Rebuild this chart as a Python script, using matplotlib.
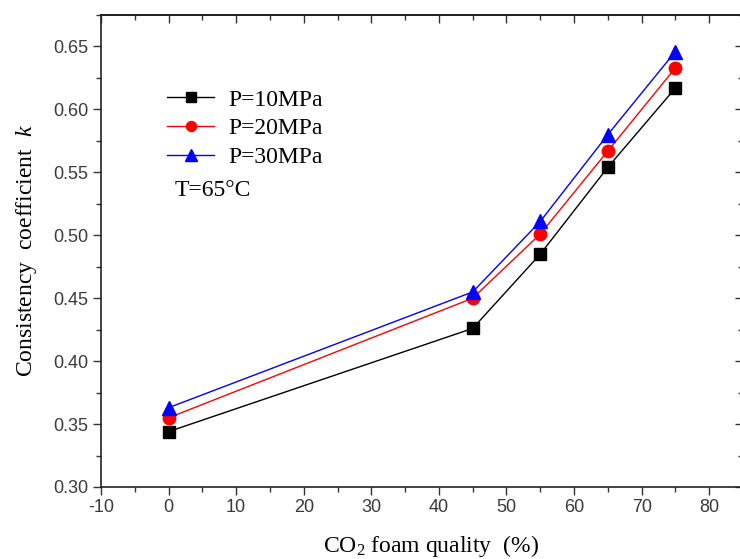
import matplotlib
matplotlib.use("Agg")
import matplotlib.pyplot as plt
from matplotlib.ticker import MultipleLocator, FormatStrFormatter

quality = [0, 45, 55, 65, 75]
k_10 = [0.344, 0.426, 0.485, 0.554, 0.617]
k_20 = [0.355, 0.450, 0.501, 0.567, 0.633]
k_30 = [0.363, 0.455, 0.511, 0.580, 0.646]
labels = ["P=10MPa", "P=20MPa", "P=30MPa"]

serif = "Liberation Serif"
sans = "Liberation Sans"

plt.rcParams["mathtext.fontset"] = "custom"
plt.rcParams["mathtext.rm"] = serif
plt.rcParams["mathtext.it"] = serif + ":italic"
plt.rcParams["axes.unicode_minus"] = False

fig = plt.figure(figsize=(7.40, 5.59), dpi=100)
ax = fig.add_axes([101/740, (559-487)/559, (743-101)/740, (487-15)/559])

ax.plot(quality, k_10, color="black", lw=1.0, marker="s", ms=8.5, mec="black", mfc="black", label=labels[0])
ax.plot(quality, k_20, color="red", lw=1.0, marker="o", ms=9, mec="red", mfc="red", label=labels[1])
ax.plot(quality, k_30, color="blue", lw=1.0, marker="^", ms=10, mec="blue", mfc="blue", label=labels[2])

ax.set_xlim(-10, 85)
ax.set_ylim(0.30, 0.675)
ax.xaxis.set_major_locator(MultipleLocator(10))
ax.xaxis.set_minor_locator(MultipleLocator(5))
ax.yaxis.set_major_locator(MultipleLocator(0.05))
ax.yaxis.set_minor_locator(MultipleLocator(0.025))
ax.yaxis.set_major_formatter(FormatStrFormatter("%.2f"))

for sp in ax.spines.values():
    sp.set_linewidth(1.2)
    sp.set_color("#222222")

ax.tick_params(which="major", direction="out", length=6, width=1.0, color="#333333",
               labelsize=13, labelcolor="#3a3a3a", pad=3)
ax.tick_params(which="minor", direction="out", length=3.5, width=1.0, color="#333333")
for lab in ax.get_xticklabels() + ax.get_yticklabels():
    lab.set_fontfamily(sans)

secx = ax.secondary_xaxis("top")
secx.xaxis.set_major_locator(MultipleLocator(10))
secx.xaxis.set_minor_locator(MultipleLocator(5))
secx.tick_params(which="major", direction="in", length=6, width=1.0, color="#333333", labeltop=False)
secx.tick_params(which="minor", direction="in", length=3.5, width=1.0, color="#333333")
secx.spines["top"].set_linewidth(1.2)

secy = ax.secondary_yaxis("right")
secy.yaxis.set_major_locator(MultipleLocator(0.05))
secy.yaxis.set_minor_locator(MultipleLocator(0.025))
secy.tick_params(which="major", direction="in", length=6, width=1.0, color="#333333", labelright=False)
secy.tick_params(which="minor", direction="in", length=3.5, width=1.0, color="#333333")

ax.set_xlabel(r"CO$_2$ foam quality  (%)", fontfamily=serif, fontsize=17, labelpad=10)
ax.xaxis.set_label_coords(0.514, -0.098)
ax.set_ylabel(r"Consistency  coefficient  $k$", fontfamily=serif, fontsize=17, labelpad=10)

leg = ax.legend(loc="upper left", bbox_to_anchor=(0.103, 0.843), frameon=False,
                prop={"family": serif, "size": 17}, handlelength=2.0, handletextpad=0.6,
                labelspacing=0.3, borderaxespad=0, borderpad=0, markerscale=0.8)
ax.text(0.115, 0.629, "T=65°C", transform=ax.transAxes, fontfamily=serif, fontsize=17, va="center")

fig.savefig("out.png", dpi=100)
